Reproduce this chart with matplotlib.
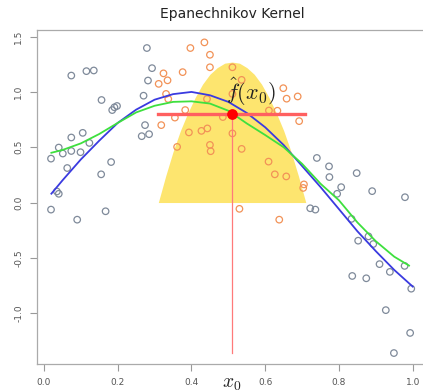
import matplotlib
matplotlib.use("Agg")
import matplotlib.pyplot as plt

plt.rcParams["mathtext.fontset"] = "cm"

# observations inside the kernel window (orange)
x_in = [0.397, 0.435, 0.450, 0.450, 0.324, 0.376, 0.311, 0.335, 0.331, 0.337,
        0.383, 0.355, 0.318, 0.393, 0.427, 0.443, 0.361, 0.450, 0.452, 0.442,
        0.485, 0.511, 0.511, 0.511, 0.536, 0.649, 0.658, 0.688, 0.610, 0.633,
        0.692, 0.536, 0.609, 0.626, 0.657, 0.705, 0.703, 0.530, 0.638]
y_in = [1.397, 1.448, 1.336, 1.223, 1.168, 1.179, 1.073, 1.105, 0.982, 0.936,
        0.836, 0.768, 0.700, 0.634, 0.648, 0.670, 0.503, 0.521, 0.464, 0.936,
        0.773, 1.223, 0.982, 0.625, 1.109, 1.034, 0.939, 0.959, 0.832, 0.830,
        0.736, 0.485, 0.370, 0.255, 0.236, 0.164, 0.132, -0.057, -0.155]

# observations outside the window (grey)
x_out = [0.074, 0.115, 0.135, 0.156, 0.185, 0.191, 0.198, 0.105, 0.074, 0.123,
         0.040, 0.051, 0.074, 0.099, 0.019, 0.063, 0.182, 0.155, 0.035, 0.040,
         0.279, 0.293, 0.282, 0.270, 0.274, 0.265, 0.285, 0.019, 0.090, 0.167,
         0.722, 0.736, 0.740, 0.773, 0.774, 0.848, 0.806, 0.795, 0.890, 0.979,
         0.834, 0.852, 0.880, 0.893, 0.910, 0.938, 0.978, 0.836, 0.874, 0.996,
         0.927, 0.993, 0.949]
y_out = [1.148, 1.188, 1.194, 0.927, 0.836, 0.861, 0.873, 0.630, 0.588, 0.539,
         0.497, 0.443, 0.466, 0.455, 0.397, 0.312, 0.366, 0.255, 0.100, 0.079,
         1.397, 1.215, 1.103, 0.966, 0.700, 0.600, 0.618, -0.064, -0.155, -0.079,
         -0.052, -0.064, 0.403, 0.327, 0.230, 0.266, 0.139, 0.079, 0.103, 0.048,
         -0.148, -0.345, -0.306, -0.375, -0.557, -0.627, -0.573, -0.664, -0.685, -0.779,
         -0.973, -1.179, -1.361]

# true function (blue) and kernel fit (green)
curve_x = [0.02, 0.05, 0.10, 0.15, 0.20, 0.25, 0.30, 0.35, 0.40, 0.45, 0.50,
           0.55, 0.60, 0.65, 0.70, 0.75, 0.80, 0.85, 0.90, 0.95, 1.00]
blue_y = [0.08, 0.20, 0.39, 0.56, 0.72, 0.84, 0.93, 0.98, 1.00, 0.97, 0.91,
          0.81, 0.68, 0.52, 0.33, 0.14, -0.06, -0.26, -0.44, -0.61, -0.76]
green_x = [0.02, 0.05, 0.10, 0.15, 0.20, 0.25, 0.30, 0.35, 0.40, 0.45, 0.50,
           0.55, 0.60, 0.65, 0.70, 0.75, 0.80, 0.85, 0.90, 0.95, 0.99]
green_y = [0.45, 0.475, 0.535, 0.62, 0.72, 0.815, 0.875, 0.91, 0.915, 0.895, 0.83,
           0.715, 0.61, 0.50, 0.35, 0.17, 0.02, -0.18, -0.35, -0.49, -0.57]

# kernel weights shape (yellow)
kern_x = [0.31, 0.33, 0.35, 0.37, 0.39, 0.41, 0.43, 0.45, 0.47, 0.49, 0.51,
          0.53, 0.55, 0.57, 0.59, 0.61, 0.63, 0.65, 0.67, 0.69, 0.71]
kern_h = [0.0, 0.24, 0.46, 0.65, 0.81, 0.95, 1.07, 1.16, 1.22, 1.26, 1.27,
          1.26, 1.22, 1.16, 1.07, 0.95, 0.81, 0.65, 0.46, 0.24, 0.0]

x0 = 0.51
fhat = 0.80
win_lo, win_hi = 0.31, 0.707
y_bottom = -1.36

xticks = [0.0, 0.2, 0.4, 0.6, 0.8, 1.0]
yticks = [-1.0, -0.5, 0.0, 0.5, 1.0, 1.5]

fig = plt.figure(figsize=(4.23, 3.92), dpi=100)
ax = fig.add_axes([37 / 423, 28 / 392, 396 / 423, 334 / 392])

ax.fill_between(kern_x, 0, kern_h, color="#fde56f", lw=0, zorder=1)
ax.scatter(x_out, y_out, s=22, facecolors="none", edgecolors="#7f8a9a", lw=0.9, zorder=2)
ax.scatter(x_in, y_in, s=22, facecolors="none", edgecolors="#f29257", lw=0.9, zorder=2)
ax.plot(curve_x, blue_y, color="#3a3ae0", lw=1.3, zorder=3)
ax.plot(green_x, green_y, color="#3ee03e", lw=1.3, zorder=3)
ax.plot([win_lo, win_hi], [fhat, fhat], color="#ff6060", lw=2.4, zorder=4)
ax.plot([x0, x0], [fhat, y_bottom], color="#ff7a7a", lw=0.9, zorder=4)
ax.scatter([x0], [fhat], s=45, color="#ff0000", zorder=5)

ax.text(0.56, 1.0, r"$\hat{f}(x_0)$", fontsize=16, ha="center", va="center",
        color="#222222", zorder=6)
ax.text(x0, -0.058, r"$x_0$", fontsize=14, ha="center", va="center",
        color="#222222", transform=ax.get_xaxis_transform(), clip_on=False)

ax.set_xlim(-0.019, 1.055)
ax.set_ylim(-1.46, 1.56)
ax.set_xticks(xticks)
ax.set_xticklabels([f"{v:.1f}" for v in xticks])
ax.set_yticks(yticks)
ax.set_yticklabels([f"{v:.1f}" for v in yticks], rotation=90, va="center")
ax.tick_params(axis="both", length=5, width=0.8, color="#999999",
               labelsize=6.5, labelcolor="#555555", pad=5)

for sp in ax.spines.values():
    sp.set_color("#aaaaaa")
    sp.set_linewidth(0.9)

fig.text(232 / 423, 1 - 14 / 392, "Epanechnikov Kernel", ha="center", va="center",
         fontsize=10, color="#222222")

fig.savefig("out.png", dpi=100)
